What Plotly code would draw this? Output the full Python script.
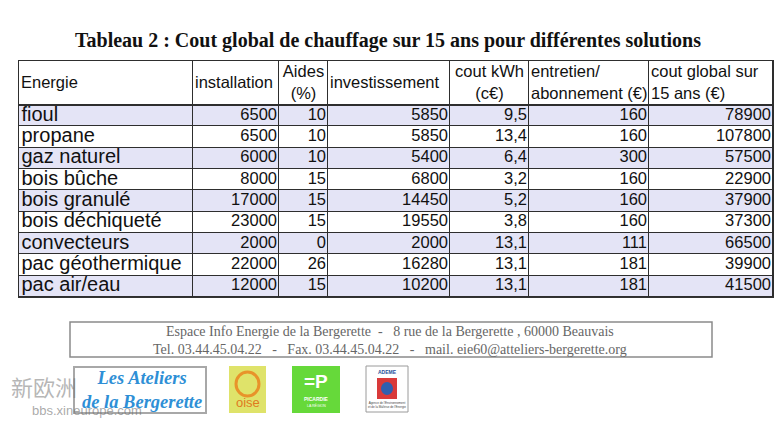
import plotly.graph_objects as go

# données du tableau
energies = ["fioul", "propane", "gaz naturel", "bois bûche", "bois granulé",
            "bois déchiqueté", "convecteurs", "pac géothermique", "pac air/eau"]
installation = [6500, 6500, 6000, 8000, 17000, 23000, 2000, 22000, 12000]
aides = [10, 10, 10, 15, 15, 15, 0, 26, 15]
investissement = [5850, 5850, 5400, 6800, 14450, 19550, 2000, 16280, 10200]
cout_kwh = ["9,5", "13,4", "6,4", "3,2", "5,2", "3,8", "13,1", "13,1", "13,1"]
entretien = [160, 160, 300, 160, 160, 160, 111, 181, 181]
cout_global = [78900, 107800, 57500, 22900, 37900, 37300, 66500, 39900, 41500]

headers = ["Energie", "installation", "Aides<br>(%)", "investissement",
           "cout kWh<br>(c€)", "entretien/<br>abonnement (€)", "cout global sur<br>15 ans (€)"]

# la page ajoute une marge de 8 px autour de la figure
OFF = 8
W, H = 783 - OFF, 421 - OFF
LAVENDER = "#e4e4f6"
LINE = "#2e2e2e"
FONT = "Liberation Sans, Arial"

# mise en page du tableau (pixels de la fenêtre)
col_w = [174, 86, 49, 122, 79, 120, 124]
left, top = 19, 61
head_h, row_h = 44, 21.33

x_edges = [left]
for w in col_w:
    x_edges.append(x_edges[-1] + w)
y_edges = [top, top + head_h]
for _ in energies:
    y_edges.append(y_edges[-1] + row_h)
right, bottom = x_edges[-1], y_edges[-1]

# fond des cellules : en-tête blanc, lignes alternées lavande / blanc
z = [[0] * len(col_w)]
for i in range(len(energies)):
    z.append([1 if i % 2 == 0 else 0] * len(col_w))

fig = go.Figure()
fig.add_trace(go.Heatmap(
    x=x_edges, y=y_edges, z=z, xgap=1, ygap=1,
    colorscale=[[0, "white"], [1, LAVENDER]], zmin=0, zmax=1,
    showscale=False, hoverinfo="skip",
))

columns = [energies, installation, aides, investissement, cout_kwh, entretien, cout_global]
row_mid = [(y_edges[i + 1] + y_edges[i + 2]) / 2 for i in range(len(energies))]
for c, vals in enumerate(columns):
    if c == 0:
        xs, pos, size = x_edges[0] + 2.5, "middle right", 20
    else:
        xs, pos, size = x_edges[c + 1] - 2, "middle left", 16.5
    fig.add_trace(go.Scatter(
        x=[xs] * len(vals), y=row_mid, text=[str(v) for v in vals],
        mode="text", textposition=pos, hoverinfo="skip", showlegend=False,
        textfont=dict(family=FONT, size=size, color="#111111"),
    ))

head_mid = top + head_h / 2
for c, h in enumerate(headers):
    if h in ("Aides<br>(%)", "cout kWh<br>(c€)"):
        xs, pos = (x_edges[c] + x_edges[c + 1]) / 2, "middle center"
    else:
        xs, pos = x_edges[c] + 2, "middle right"
    fig.add_trace(go.Scatter(
        x=[xs], y=[head_mid + 1], text=[h], mode="text", textposition=pos,
        hoverinfo="skip", showlegend=False,
        textfont=dict(family=FONT, size=16.5, color="#111111"),
    ))

# trait plus épais sous l'en-tête
fig.add_shape(type="line", xref="x", yref="y", x0=left, x1=right,
              y0=top + head_h, y1=top + head_h, line=dict(color=LINE, width=2))

fig.update_xaxes(range=[left - 1, right + 1],
                 domain=[(left - 1 - OFF) / W, (right + 1 - OFF) / W],
                 visible=False, fixedrange=True)
fig.update_yaxes(range=[bottom + 1, top - 1],
                 domain=[1 - (bottom + 1 - OFF) / H, 1 - (top - 1 - OFF) / H],
                 visible=False, fixedrange=True)


def px_note(x, y, text, size, color, family="Liberation Serif, Times New Roman"):
    fig.add_annotation(x=(x - OFF) / W, y=1 - (y - OFF) / H, xref="paper", yref="paper",
                       showarrow=False, xanchor="center", yanchor="middle", text=text,
                       font=dict(family=family, size=size, color=color))


def px_shape(kind, x0, y0, x1, y1, **kw):
    fig.add_shape(type=kind, xref="paper", yref="paper",
                  x0=(x0 - OFF) / W, x1=(x1 - OFF) / W,
                  y0=1 - (y1 - OFF) / H, y1=1 - (y0 - OFF) / H, **kw)


# titre
px_note(388, 40, "<b>Tableau 2 : Cout global de chauffage sur 15 ans pour différentes solutions</b>",
        20, "#111111")

# cadre pied de page
px_shape("rect", 70, 322, 712, 357, line=dict(color="#8a8a8a", width=1.5))
px_note(390, 340,
        "Espace Info Energie de la Bergerette  -   8 rue de la Bergerette , 60000 Beauvais"
        "<br>Tel. 03.44.45.04.22   -   Fax. 03.44.45.04.22   -   mail. eie60@atteliers-bergerette.org",
        14, "#666666")

# logos
px_shape("rect", 74, 367, 206, 413, line=dict(color="#a8a8a8", width=2), fillcolor="white")
px_note(142, 390, "<b><i>Les Ateliers<br>de la Bergerette</i></b>", 18.5, "#2e8fd6")

px_shape("rect", 229, 366, 266, 413, line=dict(width=0), fillcolor="#dfe36a")
px_shape("circle", 236, 372, 259, 396, line=dict(color="#e8932a", width=3))
px_note(247.5, 402, "oise", 13, "#e07a1f", FONT)

px_shape("rect", 292, 366, 340, 413, line=dict(width=0), fillcolor="#66d93a")
px_note(316, 381, "<b>=P</b>", 19, "white", FONT)
px_note(316, 399, "<b>PICARDIE</b>", 5, "white", FONT)
px_note(316, 405, "LA RÉGION", 3.5, "white", FONT)

px_shape("rect", 366, 366, 408, 412, line=dict(color="#9a9a9a", width=1), fillcolor="white")
px_note(387, 372, "<b>ADEME</b>", 5, "#1f4f9a", FONT)
px_shape("rect", 377, 378, 397, 399, line=dict(width=0), fillcolor="#d93a3a")
px_shape("circle", 381, 382, 393, 395, line=dict(width=0), fillcolor="#2f5fb0")
px_note(387, 405, "Agence de l'Environnement<br>et de la Maîtrise de l'Energie", 3, "#444444", FONT)

# filigrane
px_note(44, 386, "新欧洲", 22, "rgba(110,110,110,0.5)", "Noto Sans CJK SC")
px_note(87, 410, "bbs.xineurope.com", 13, "rgba(110,110,110,0.6)", FONT)

fig.update_layout(width=W, height=H, margin=dict(l=0, r=0, t=0, b=0),
                  paper_bgcolor="white", plot_bgcolor=LINE, showlegend=False)
fig.write_html("out.html")
